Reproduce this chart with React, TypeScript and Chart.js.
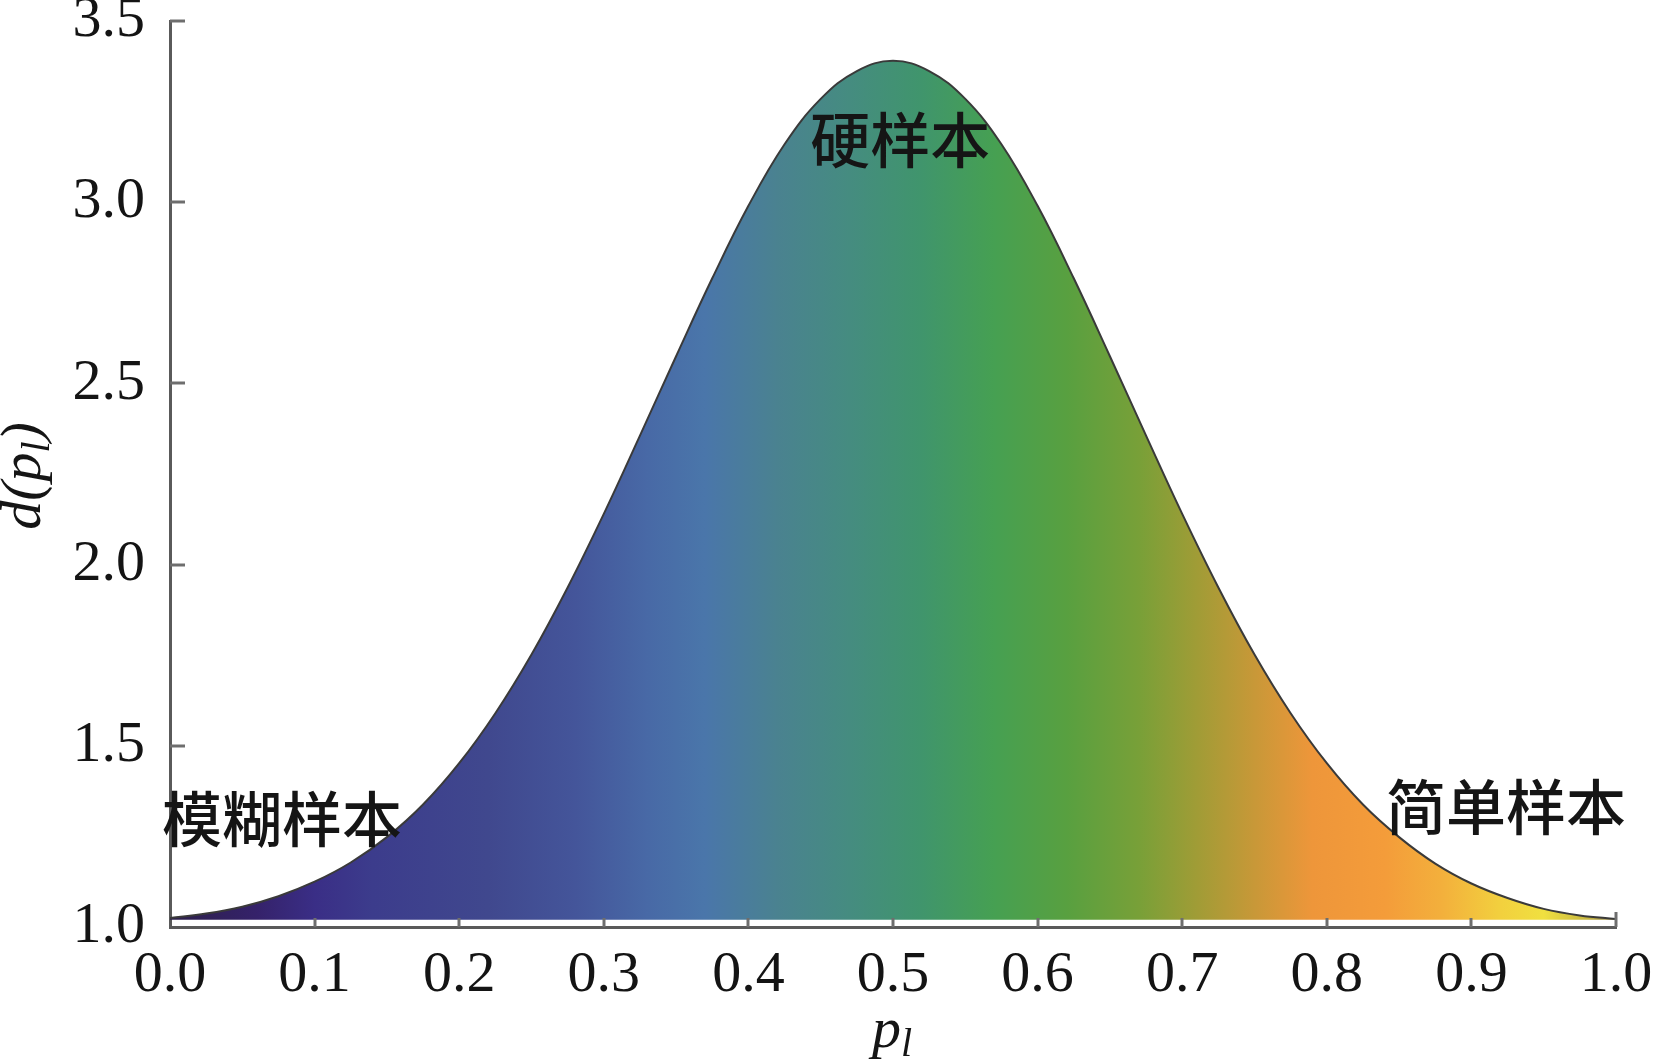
import React, { useEffect, useRef } from "react";
import { Chart, registerables } from "chart.js";

Chart.register(...registerables);

// ---- data ----
const pValues = [
  0.0, 0.025, 0.05, 0.075, 0.1, 0.125, 0.15, 0.175, 0.2, 0.225,
  0.25, 0.275, 0.3, 0.325, 0.35, 0.375, 0.4, 0.425, 0.45, 0.475,
  0.5, 0.525, 0.55, 0.575, 0.6, 0.625, 0.65, 0.675, 0.7, 0.725,
  0.75, 0.775, 0.8, 0.825, 0.85, 0.875, 0.9, 0.925, 0.95, 0.975, 1.0,
];
const dValues = [
  1.025, 1.037, 1.056, 1.085, 1.125, 1.178, 1.248, 1.338, 1.452, 1.59,
  1.752, 1.937, 2.14, 2.356, 2.575, 2.79, 2.99, 3.16, 3.285, 3.362,
  3.39, 3.362, 3.285, 3.16, 2.99, 2.79, 2.575, 2.356, 2.14, 1.937,
  1.752, 1.59, 1.452, 1.338, 1.248, 1.175, 1.12, 1.08, 1.05, 1.032, 1.022,
];
const xTickValues = [0.0, 0.1, 0.2, 0.3, 0.4, 0.5, 0.6, 0.7, 0.8, 0.9, 1.0];
const yTickValues = [1.0, 1.5, 2.0, 2.5, 3.0, 3.5];
const fillBase = 1.02;

const gradientStops = [0.0, 0.06, 0.1, 0.14, 0.22, 0.28, 0.33, 0.37, 0.42, 0.47, 0.52, 0.57, 0.62, 0.67, 0.71, 0.75, 0.79, 0.84, 0.88, 0.92, 0.95, 0.98, 1.0];
const gradientColors = [
  "#2c1f4a", "#35226a", "#3a2e86", "#3c3c8c", "#40488e", "#44559a", "#4869a6", "#4a76aa",
  "#4a8290", "#458c80", "#40956c", "#46a052", "#58a040", "#78a038", "#a09c36", "#c89838",
  "#ee963a", "#f49c3a", "#f3b03c", "#f2d03e", "#f0e040", "#c8b840", "#8a7a40",
];

const annotationTexts = ["硬样本", "模糊样本", "简单样本"];
const annotationX = [0.505, 0.0775, 0.924];
const annotationY = [3.171, 1.298, 1.331];

const SERIF = '"Liberation Serif", "Times New Roman", serif';
const CJK = '"Noto Sans CJK SC", sans-serif';

const decorPlugin = {
  id: "decor",
  afterDraw(chart: any) {
    const { ctx, chartArea, scales } = chart;
    const xs = scales.x;
    const ys = scales.y;
    ctx.save();
    // inward ticks
    ctx.strokeStyle = "#6e6e6e";
    ctx.lineWidth = 3;
    yTickValues.forEach((v, i) => {
      const y = Math.round(ys.getPixelForValue(v));
      if (i === 0) return;
      ctx.beginPath();
      ctx.moveTo(chartArea.left, y);
      ctx.lineTo(chartArea.left + 15, y);
      ctx.stroke();
    });
    xTickValues.forEach((v, i) => {
      const x = Math.round(xs.getPixelForValue(v));
      if (i === 0) return;
      const len = i === xTickValues.length - 1 ? 15 : 9;
      ctx.beginPath();
      ctx.moveTo(x, chartArea.bottom);
      ctx.lineTo(x, chartArea.bottom - len);
      ctx.stroke();
    });

    // annotations
    ctx.fillStyle = "#151515";
    ctx.textAlign = "center";
    ctx.textBaseline = "middle";
    ctx.font = `500 60px ${CJK}`;
    annotationTexts.forEach((t, i) => {
      ctx.fillText(t, xs.getPixelForValue(annotationX[i]), ys.getPixelForValue(annotationY[i]));
    });

    // x axis title p_l
    ctx.textAlign = "left";
    ctx.textBaseline = "alphabetic";
    ctx.font = `italic 58px ${SERIF}`;
    const xt = "p";
    const wP = ctx.measureText(xt).width;
    const xCenter = 892;
    ctx.font = `italic 40px ${SERIF}`;
    const wL = ctx.measureText("l").width;
    const sx = xCenter - (wP + wL) / 2;
    ctx.font = `italic 58px ${SERIF}`;
    ctx.fillText(xt, sx, 1047);
    ctx.font = `italic 40px ${SERIF}`;
    ctx.fillText("l", sx + wP, 1056);

    // y axis title d(p_l)
    ctx.save();
    ctx.translate(40, 476);
    ctx.rotate(-Math.PI / 2);
    const parts = [
      { t: "d(p", f: `italic 58px ${SERIF}`, dy: 0 },
      { t: "l", f: `italic 40px ${SERIF}`, dy: 9 },
      { t: ")", f: `italic 58px ${SERIF}`, dy: 0 },
    ];
    let total = 0;
    parts.forEach((p) => {
      ctx.font = p.f;
      total += ctx.measureText(p.t).width;
    });
    let cx = -total / 2;
    parts.forEach((p) => {
      ctx.font = p.f;
      ctx.fillText(p.t, cx, p.dy);
      cx += ctx.measureText(p.t).width;
    });
    ctx.restore();
    ctx.restore();
  },
};

export default function App() {
  const canvasRef = useRef<HTMLCanvasElement | null>(null);

  useEffect(() => {
    document.body.style.margin = "0";
    const canvas = canvasRef.current;
    if (!canvas) return;
    const points = pValues.map((p, i) => ({ x: p, y: dValues[i] }));
    const chart = new Chart(canvas, {
      type: "line",
      data: {
        datasets: [
          {
            data: points,
            borderColor: "#3a3a3a",
            borderWidth: 2,
            pointRadius: 0,
            tension: 0.4,
            fill: { value: fillBase },
            backgroundColor: (c: any) => {
              const area = c.chart.chartArea;
              if (!area) return "#4a8290";
              const g = c.chart.ctx.createLinearGradient(area.left, 0, area.right, 0);
              gradientStops.forEach((s, i) => g.addColorStop(s, gradientColors[i]));
              return g;
            },
          },
        ],
      },
      options: {
        animation: false,
        responsive: false,
        devicePixelRatio: 1,
        layout: { padding: { top: 21, right: 38, left: 0, bottom: 0 } },
        plugins: { legend: { display: false }, tooltip: { enabled: false } },
        scales: {
          x: {
            type: "linear",
            min: 0,
            max: 1,
            grid: { display: false, drawTicks: false },
            border: { display: true, color: "#5a5a5a", width: 3 },
            ticks: {
              stepSize: 0.1,
              padding: 14,
              maxRotation: 0,
              autoSkip: false,
              color: "#141414",
              font: { family: SERIF, size: 58 },
              callback: (v: any) => Number(v).toFixed(1),
            },
            afterFit: (s: any) => {
              s.height = 134;
              s.paddingLeft = 0;
              s.paddingRight = 0;
            },
          },
          y: {
            min: 1,
            max: 3.5,
            grid: { display: false, drawTicks: false },
            border: { display: true, color: "#5a5a5a", width: 3 },
            ticks: {
              stepSize: 0.5,
              padding: 25,
              autoSkip: false,
              color: "#141414",
              font: { family: SERIF, size: 58 },
              callback: (v: any) => Number(v).toFixed(1),
            },
            afterFit: (s: any) => {
              s.width = 170;
              s.paddingTop = 0;
              s.paddingBottom = 0;
            },
          },
        },
      },
      plugins: [decorPlugin],
    });
    return () => chart.destroy();
  }, []);

  return (
    <div style={{ position: "absolute", left: 0, top: 0, width: 1654, height: 1061, background: "#fff" }}>
      <canvas ref={canvasRef} width={1654} height={1061} style={{ display: "block", width: 1654, height: 1061 }} />
    </div>
  );
}
